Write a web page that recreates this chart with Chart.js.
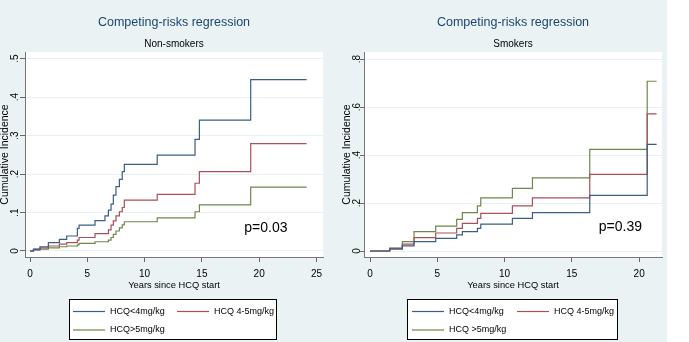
<!DOCTYPE html>
<html>
<head>
<meta charset="utf-8">
<script src="https://cdn.jsdelivr.net/npm/chart.js@4.4.0/dist/chart.umd.min.js"></script>
<style>
  body { margin: 0; background: #fff; }
  #bg { position: absolute; left: 0; top: 0; width: 667px; height: 342px; background: #eaf2f3; }
  .panel { position: absolute; top: 0; height: 342px; }
  #left { left: 0; width: 340px; }
  #right { left: 340px; width: 327px; }
</style>
</head>
<body>
<div id="bg"></div>
<div class="panel" id="left"><canvas id="chartNS"></canvas></div>
<div class="panel" id="right"><canvas id="chartS"></canvas></div>
<script>
// ---- data ----
const seriesLabelsNS = ['HCQ<4mg/kg', 'HCQ 4-5mg/kg', 'HCQ>5mg/kg'];
const seriesLabelsS = ['HCQ<4mg/kg', 'HCQ 4-5mg/kg', 'HCQ >5mg/kg'];

// non-smokers: years since HCQ start where the curve steps, and the level after the step
const nsLowT = [0, 0.3, 0.87, 1.6, 2.56, 3.2, 4.13, 4.28, 5.67, 6.54, 6.84, 7.07, 7.27, 7.5, 7.8, 8.05, 8.23, 11.1, 14.4, 14.78, 19.26, 24.14];
const nsLowY = [0, 0.005, 0.011, 0.022, 0.030, 0.039, 0.059, 0.067, 0.079, 0.091, 0.106, 0.122, 0.145, 0.167, 0.186, 0.206, 0.225, 0.249, 0.29, 0.34, 0.445, 0.445];
const nsMidT = [0, 0.3, 0.87, 1.6, 2.56, 3.2, 4.13, 4.28, 5.67, 6.84, 7.07, 7.27, 7.5, 7.8, 8.05, 8.23, 11.1, 14.4, 14.78, 19.26, 24.14];
const nsMidY = [0, 0.004, 0.008, 0.013, 0.018, 0.022, 0.028, 0.035, 0.045, 0.055, 0.067, 0.078, 0.091, 0.102, 0.113, 0.132, 0.147, 0.176, 0.206, 0.279, 0.279];
const nsHighT = [0, 0.3, 0.87, 1.6, 2.56, 3.2, 4.13, 4.28, 5.67, 6.84, 7.07, 7.27, 7.5, 7.8, 8.05, 8.23, 11.1, 14.4, 14.78, 19.26, 24.14];
const nsHighY = [0, 0.002, 0.005, 0.008, 0.011, 0.013, 0.016, 0.02, 0.024, 0.028, 0.035, 0.043, 0.052, 0.06, 0.068, 0.076, 0.086, 0.102, 0.12, 0.166, 0.166];

// smokers
const sT = [0, 1.46, 2.4, 3.27, 4.88, 6.44, 6.86, 7.98, 8.23, 10.58, 12.07, 16.33, 20.6, 21.3];
const sLowY = [0, 0.008, 0.021, 0.039, 0.053, 0.067, 0.081, 0.094, 0.112, 0.136, 0.16, 0.232, 0.445, 0.445];
const sMidY = [0, 0.011, 0.029, 0.056, 0.075, 0.094, 0.115, 0.136, 0.157, 0.188, 0.222, 0.32, 0.572, 0.572];
const sHighY = [0, 0.012, 0.039, 0.081, 0.104, 0.132, 0.16, 0.188, 0.222, 0.261, 0.305, 0.424, 0.708, 0.708];

const nsXTicks = [0, 5, 10, 15, 20, 25];
const nsYTicks = [0, 0.1, 0.2, 0.3, 0.4, 0.5];
const sXTicks = [0, 5, 10, 15, 20];
const sYTicks = [0, 0.2, 0.4, 0.6, 0.8];

const pValueNS = 'p=0.03';
const pValueS = 'p=0.39';

// ---- styling ----
const FONT = '"Liberation Sans", Arial, Helvetica, sans-serif';
const colors = ['#3a5e86', '#ab4f58', '#6d8849'];

Chart.defaults.font.family = FONT;
Chart.defaults.color = '#000';

function pts(t, y) {
  return t.map((x, i) => ({ x: x, y: y[i] }));
}

function fmtY(v) {
  if (v === 0) return '0';
  return String(+v.toFixed(1)).replace(/^0/, '');
}

const panelText = {
  id: 'panelText',
  beforeDraw(chart) {
    const a = chart.chartArea;
    const ctx = chart.ctx;
    ctx.save();
    ctx.fillStyle = '#fff';
    ctx.fillRect(a.left, a.top, a.right - a.left, a.bottom - a.top);
    ctx.restore();
  },
  afterDraw(chart, args, o) {
    const ctx = chart.ctx;
    const a = chart.chartArea;
    const cx = (a.left + a.right) / 2;
    ctx.save();
    ctx.textAlign = 'center';
    ctx.textBaseline = 'middle';
    ctx.fillStyle = '#1a476f';
    ctx.font = '12.5px ' + FONT;
    ctx.fillText(o.title, cx, 23);
    ctx.fillStyle = '#000';
    ctx.font = '10px ' + FONT;
    ctx.fillText(o.subtitle, cx, 44);

    // p-value note
    const xs = chart.scales.x, ys = chart.scales.y;
    ctx.textAlign = 'left';
    ctx.font = '14px ' + FONT;
    ctx.fillText(o.pText, xs.getPixelForValue(o.pAt[0]), ys.getPixelForValue(o.pAt[1]));

    // legend box
    const b = o.legend;
    ctx.fillStyle = '#fff';
    ctx.fillRect(b.x, b.y, b.w, b.h);
    ctx.strokeStyle = '#000';
    ctx.lineWidth = 1;
    ctx.strokeRect(b.x + 0.5, b.y + 0.5, b.w, b.h);
    ctx.font = '9px ' + FONT;
    chart.data.datasets.forEach((ds, i) => {
      const col = i % 2, row = Math.floor(i / 2);
      const lx = b.cols[col], ly = b.rows[row];
      ctx.strokeStyle = ds.borderColor;
      ctx.lineWidth = 1.2;
      ctx.beginPath();
      ctx.moveTo(lx, ly);
      ctx.lineTo(lx + 32, ly);
      ctx.stroke();
      ctx.fillStyle = '#000';
      ctx.fillText(ds.label, lx + 37, ly);
    });
    ctx.restore();
  }
};

function makeChart(id, p) {
  return new Chart(document.getElementById(id), {
    type: 'line',
    data: {
      datasets: p.series.map((s, i) => ({
        label: p.labels[i],
        data: pts(s[0], s[1]),
        borderColor: colors[i],
        borderWidth: 1.2,
        stepped: true,
        pointRadius: 0,
        fill: false
      }))
    },
    options: {
      responsive: true,
      maintainAspectRatio: false,
      animation: false,
      devicePixelRatio: 1,
      layout: { padding: { top: 52, right: p.rightPad, left: 0, bottom: 0 } },
      plugins: {
        legend: { display: false },
        tooltip: { enabled: false },
        panelText: p.text
      },
      scales: {
        x: {
          type: 'linear',
          min: p.xMin, max: p.xMax,
          afterBuildTicks: sc => { sc.ticks = p.xTicks.map(v => ({ value: v })); },
          afterFit: sc => { sc.height = 85; },
          grid: { drawOnChartArea: false, drawTicks: true, tickLength: 5, tickColor: '#666' },
          border: { color: '#777', width: 1 },
          ticks: { font: { size: 10 }, padding: 6, maxRotation: 0, color: '#000' },
          title: { display: true, text: 'Years since HCQ start', font: { size: 9.3 }, padding: { top: 0, bottom: 50.5 }, color: '#000' }
        },
        y: {
          type: 'linear',
          min: p.yMin, max: p.yMax,
          afterBuildTicks: sc => { sc.ticks = p.yTicks.map(v => ({ value: v })); },
          afterFit: sc => { sc.width = p.yWidth; },
          grid: { color: '#e9eff2', tickLength: p.tickLen, tickColor: '#666' },
          border: { color: '#777', width: 1 },
          ticks: {
            font: { size: 10 }, padding: p.tickPad, minRotation: 90, maxRotation: 90,
            crossAlign: 'center', callback: v => fmtY(v), color: '#000'
          },
          title: { display: true, text: 'Cumulative Incidence', font: { size: 10.5, lineHeight: p.yTitleLH }, padding: { top: 0, bottom: 0 }, color: '#000' }
        }
      }
    },
    plugins: [panelText]
  });
}

makeChart('chartNS', {
  labels: seriesLabelsNS,
  series: [[nsLowT, nsLowY], [nsMidT, nsMidY], [nsHighT, nsHighY]],
  xMin: -0.44, xMax: 25.57, yMin: -0.0156, yMax: 0.517,
  xTicks: nsXTicks, yTicks: nsYTicks,
  yWidth: 25, rightPad: 17, tickLen: 5, tickPad: 1, yTitleLH: 10 / 10.5,
  text: {
    title: 'Competing-risks regression', subtitle: 'Non-smokers',
    pText: pValueNS, pAt: [18.7, 0.06],
    legend: { x: 69, y: 299, w: 207, h: 40, cols: [73, 177], rows: [311.5, 330] }
  }
});

makeChart('chartS', {
  labels: seriesLabelsS,
  series: [[sT, sLowY], [sT, sMidY], [sT, sHighY]],
  xMin: -0.45, xMax: 21.7, yMin: -0.025, yMax: 0.83,
  xTicks: sXTicks, yTicks: sYTicks,
  yWidth: 24, rightPad: 5, tickLen: 4, tickPad: -1.5, yTitleLH: 15 / 10.5,
  text: {
    title: 'Competing-risks regression', subtitle: 'Smokers',
    pText: pValueS, pAt: [17.0, 0.10],
    legend: { x: 67, y: 299, w: 210, h: 40, cols: [72, 177], rows: [311.5, 330] }
  }
});
</script>
</body>
</html>
